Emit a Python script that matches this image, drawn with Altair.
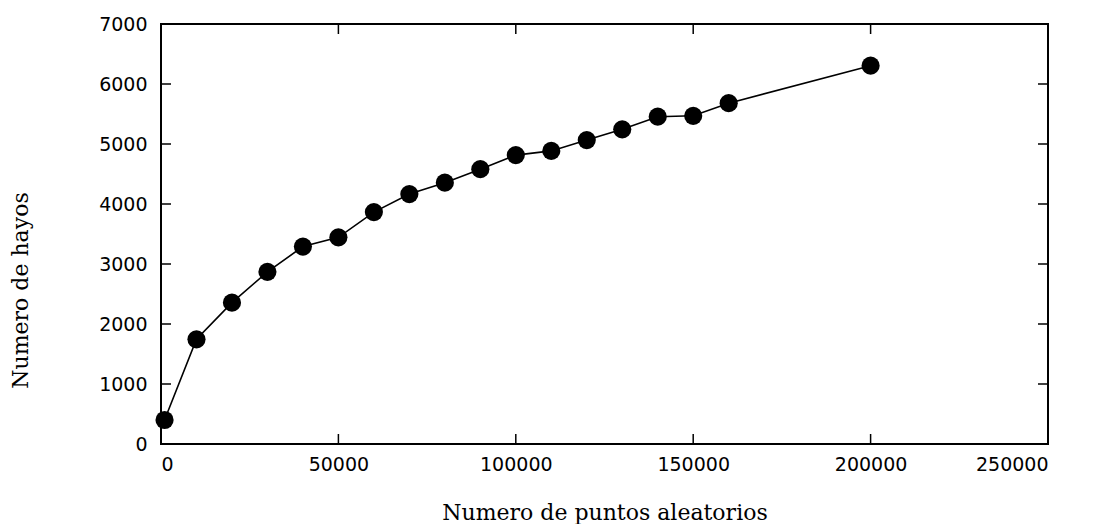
import altair as alt
import pandas as pd

puntos = [1000, 10000, 20000, 30000, 40000, 50000, 60000, 70000, 80000, 90000,
          100000, 110000, 120000, 130000, 140000, 150000, 160000, 200000]
hoyos = [400, 1745, 2355, 2870, 3290, 3445, 3865, 4165, 4355, 4580,
         4815, 4885, 5065, 5245, 5455, 5470, 5680, 6305]

x_ticks = [0, 50000, 100000, 150000, 200000, 250000]
y_ticks = [0, 1000, 2000, 3000, 4000, 5000, 6000, 7000]

W, H = 887, 420
TICK = 10

df = pd.DataFrame({"x": puntos, "y": hoyos})
dx = pd.DataFrame({"t": x_ticks[1:-1]})
dy = pd.DataFrame({"t": y_ticks[1:-1]})

xscale = alt.Scale(domain=[0, 250000], nice=False, zero=False)
yscale = alt.Scale(domain=[0, 7000], nice=False, zero=False)

xaxis = alt.Axis(values=x_ticks, format="d", tickSize=0, domain=False, grid=False,
                 labelFont="DejaVu Sans", labelFontSize=19, labelColor="black",
                 labelPadding=11, title="Numero de puntos aleatorios",
                 titleFont="DejaVu Serif", titleFontSize=22, titleFontWeight="normal",
                 titleColor="black", titleX=W / 2, titleY=75, titleAlign="center",
                 titleBaseline="alphabetic")
yaxis = alt.Axis(values=y_ticks, format="d", tickSize=0, domain=False, grid=False,
                 labelFont="DejaVu Sans", labelFontSize=19, labelColor="black",
                 labelPadding=14, title="Numero de hayos",
                 titleFont="DejaVu Serif", titleFontSize=22, titleFontWeight="normal",
                 titleColor="black", titleX=-141, titleY=266, titleAngle=270,
                 titleAlign="center", titleBaseline="middle")

line = alt.Chart(df).mark_line(color="black", strokeWidth=1.6).encode(
    x=alt.X("x:Q", scale=xscale, axis=xaxis),
    y=alt.Y("y:Q", scale=yscale, axis=yaxis),
)
pts = alt.Chart(df).mark_circle(color="black", opacity=1, size=330).encode(
    x=alt.X("x:Q", scale=xscale),
    y=alt.Y("y:Q", scale=yscale),
)

bx = alt.Chart(dx).mark_rule(color="black", strokeWidth=1.5).encode(
    x=alt.X("t:Q", scale=xscale), y=alt.value(H), y2=alt.value(H - TICK))
tx = alt.Chart(dx).mark_rule(color="black", strokeWidth=1.5).encode(
    x=alt.X("t:Q", scale=xscale), y=alt.value(0), y2=alt.value(TICK))
ly = alt.Chart(dy).mark_rule(color="black", strokeWidth=1.5).encode(
    y=alt.Y("t:Q", scale=yscale), x=alt.value(0), x2=alt.value(TICK))
ry = alt.Chart(dy).mark_rule(color="black", strokeWidth=1.5).encode(
    y=alt.Y("t:Q", scale=yscale), x=alt.value(W), x2=alt.value(W - TICK))

chart = alt.layer(line, pts, bx, tx, ly, ry).properties(
    width=W, height=H,
    background="white",
    autosize=alt.AutoSizeParams(type="none"),
    padding={"left": 153, "top": 16, "right": 40, "bottom": 80},
).configure_view(stroke="black", strokeWidth=2)

chart.save("out.html", embed_options={"renderer": "svg", "actions": False})
